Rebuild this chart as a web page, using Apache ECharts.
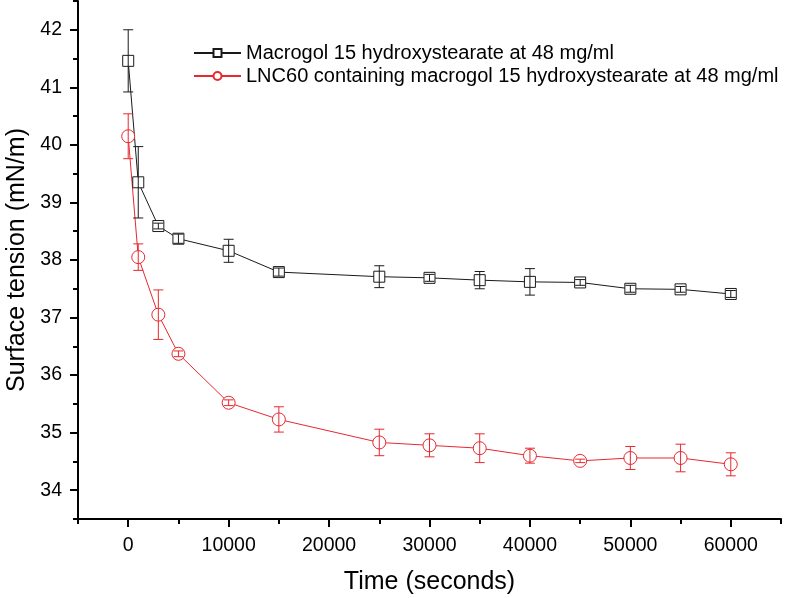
<!DOCTYPE html>
<html><head><meta charset="utf-8">
<script src="https://cdn.jsdelivr.net/npm/echarts@6/dist/echarts.min.js"></script>
<style>html,body{margin:0;padding:0;background:#fff}#c{width:794px;height:598px}</style>
</head><body><div id="c"></div>
<script>
const time = [0, 1000, 3000, 5000, 10000, 15000, 25000, 30000, 35000, 40000, 45000, 50000, 55000, 60000];
const macrogol = [41.46, 39.35, 38.59, 38.37, 38.16, 37.79, 37.71, 37.69, 37.65, 37.62, 37.61, 37.50, 37.49, 37.41];
const macrogolErr = [0.54, 0.62, 0.05, 0.08, 0.20, 0.07, 0.19, 0.06, 0.15, 0.23, 0.05, 0.06, 0.05, 0.06];
const lnc = [40.15, 38.05, 37.05, 36.37, 35.52, 35.23, 34.83, 34.78, 34.73, 34.60, 34.51, 34.56, 34.56, 34.45];
const lncErr = [0.39, 0.23, 0.43, 0.05, 0.05, 0.22, 0.23, 0.20, 0.25, 0.13, 0.03, 0.20, 0.24, 0.20];
const seriesNames = ['Macrogol 15 hydroxystearate at 48 mg/ml', 'LNC60 containing macrogol 15 hydroxystearate at 48 mg/ml'];
const xMajor = [0, 10000, 20000, 30000, 40000, 50000, 60000];
const xMinor = [-5000, 5000, 15000, 25000, 35000, 45000, 55000, 65000];
const yMajor = [34, 35, 36, 37, 38, 39, 40, 41, 42];
const yMinor = [33.5, 34.5, 35.5, 36.5, 37.5, 38.5, 39.5, 40.5, 41.5, 42.5];

const FONT = 'Arial, "Liberation Sans", sans-serif';
const BLACK = '#1a1a1a';
const RED = '#e8282e';

function pts(ys) { return time.map((t, i) => [t, ys[i]]); }
function errData(ys, es) { return time.map((t, i) => [t, ys[i] - es[i], ys[i] + es[i]]); }
function errRenderer(color) {
  return function (params, api) {
    const x = api.value(0), lo = api.value(1), hi = api.value(2);
    const p1 = api.coord([x, hi]), p2 = api.coord([x, lo]);
    const w = 5;
    const style = { stroke: color, lineWidth: 1, fill: null };
    return {
      type: 'group', children: [
        { type: 'line', shape: { x1: p1[0], y1: p1[1], x2: p2[0], y2: p2[1] }, style: style },
        { type: 'line', shape: { x1: p1[0] - w, y1: p1[1], x2: p1[0] + w, y2: p1[1] }, style: style },
        { type: 'line', shape: { x1: p2[0] - w, y1: p2[1], x2: p2[0] + w, y2: p2[1] }, style: style }
      ]
    };
  };
}

const chart = echarts.init(document.getElementById('c'), null, { renderer: 'canvas' });
chart.setOption({
  animation: false,
  backgroundColor: '#fff',
  textStyle: { fontFamily: FONT, color: '#000' },
  grid: { left: 78, right: 13, top: 1, bottom: 79, containLabel: false, outerBoundsMode: 'none' },
  legend: {
    orient: 'vertical', left: 193, top: 43, itemGap: 3, itemWidth: 47, itemHeight: 10, padding: 0,
    textStyle: { fontFamily: FONT, fontSize: 20, color: '#000' },
    data: seriesNames
  },
  xAxis: [{
    type: 'value', min: -5000, max: 65000, interval: 5000,
    name: 'Time (seconds)', nameLocation: 'middle', nameGap: 51,
    nameTextStyle: { fontFamily: FONT, fontSize: 25, color: '#000' },
    axisLine: { show: true, onZero: false, lineStyle: { color: '#000', width: 2 } },
    axisTick: { show: true, customValues: xMajor, length: 8, lineStyle: { color: '#000', width: 2 } },
    axisLabel: { show: true, customValues: xMajor, margin: 17, fontFamily: FONT, fontSize: 19.5, color: '#000',
      formatter: v => String(v) },
    splitLine: { show: false }
  }, {
    type: 'value', min: -5000, max: 65000, interval: 5000, position: 'bottom',
    axisLine: { show: false, onZero: false },
    axisTick: { show: true, customValues: xMinor, length: 5, lineStyle: { color: '#000', width: 2 } },
    axisLabel: { show: false },
    splitLine: { show: false }
  }],
  yAxis: [{
    type: 'value', min: 33.5, max: 42.5, interval: 0.5,
    name: 'Surface tension (mN/m)', nameLocation: 'middle', nameGap: 47, nameRotate: 90,
    nameTextStyle: { fontFamily: FONT, fontSize: 25, color: '#000' },
    axisLine: { show: true, onZero: false, lineStyle: { color: '#000', width: 2 } },
    axisTick: { show: true, customValues: yMajor, length: 8, lineStyle: { color: '#000', width: 2 } },
    axisLabel: { show: true, customValues: yMajor, margin: 16, fontFamily: FONT, fontSize: 19.5, color: '#000',
      formatter: v => String(v) },
    splitLine: { show: false }
  }, {
    type: 'value', min: 33.5, max: 42.5, interval: 0.5, position: 'left',
    axisLine: { show: false, onZero: false },
    axisTick: { show: true, customValues: yMinor, length: 5, lineStyle: { color: '#000', width: 2 } },
    axisLabel: { show: false },
    splitLine: { show: false }
  }],
  series: [
    {
      name: seriesNames[0], type: 'line', data: pts(macrogol), z: 3,
      symbol: 'rect', symbolSize: 11, showAllSymbol: true,
      lineStyle: { color: BLACK, width: 1 },
      itemStyle: { color: '#fff', borderColor: BLACK, borderWidth: 1 },
      emphasis: { disabled: true }
    },
    {
      name: seriesNames[1], type: 'line', data: pts(lnc), z: 3,
      symbol: 'circle', symbolSize: 13, showAllSymbol: true,
      lineStyle: { color: RED, width: 1 },
      itemStyle: { color: '#fff', borderColor: RED, borderWidth: 1 },
      emphasis: { disabled: true }
    },
    {
      type: 'custom', data: errData(macrogol, macrogolErr), z: 5,
      encode: { x: 0, y: [1, 2] }, renderItem: errRenderer(BLACK), silent: true
    },
    {
      type: 'custom', data: errData(lnc, lncErr), z: 5,
      encode: { x: 0, y: [1, 2] }, renderItem: errRenderer(RED), silent: true
    }
  ]
});
</script>
</body></html>
